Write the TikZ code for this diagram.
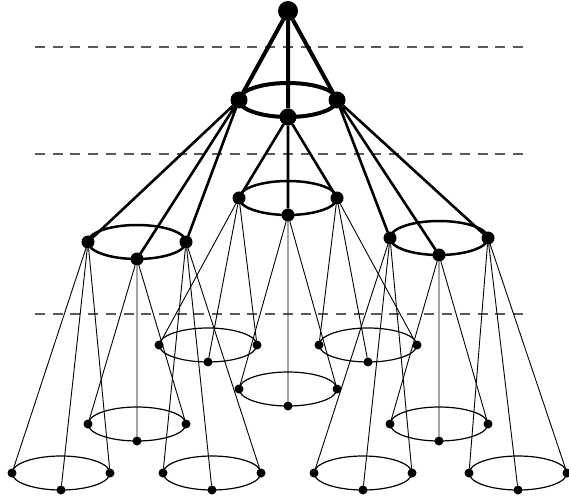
\documentclass[tikz,border=0pt]{standalone}
\usetikzlibrary{calc}
\begin{document}
\begin{tikzpicture}[x=1pt, y=-1pt,
  dot/.style={circle, fill=black, inner sep=0pt, outer sep=0pt},
  top/.style={dot, minimum size=20pt},
  d1/.style={dot, minimum size=17pt},
  d2/.style={dot, minimum size=13pt},
  d3/.style={dot, minimum size=9pt},
  e1/.style={draw, line width=4pt},
  e2/.style={draw, line width=2.6pt},
  e3/.style={draw, line width=0.9pt},
  ring1/.style={draw, line width=4pt},
  ring2/.style={draw, line width=2.5pt},
  ring3/.style={draw, line width=1.2pt},
  level/.style={draw=black!65, line width=1.2pt, dash pattern=on 10pt off 7.7pt}]
\useasboundingbox (0,0) rectangle (569,502);
% ---------- level guides
\draw[level] (35,47) -- (523,47);
\draw[level] (35,154) -- (523,154);
\draw[level] (35,314) -- (523,314);
% ---------- root and level 1
\node[top] (root) at (288,11) {};
\node[d1] (l) at (239,100) {};
\node[d1] (b) at (288,117) {};
\node[d1] (r) at (337,100) {};
% ---------- level 2
\node[d2] (ll) at (88,242) {};  \node[d2] (lb) at (137,259) {}; \node[d2] (lr) at (186,242) {};
\node[d2] (bl) at (239,198) {}; \node[d2] (bb) at (288,215) {}; \node[d2] (br) at (337,198) {};
\node[d2] (rl) at (390,238) {}; \node[d2] (rb) at (439,255) {}; \node[d2] (rr) at (488,238) {};
% ---------- level 3
\node[d3] (lll) at (12,473) {};  \node[d3] (llb) at (61,490) {};  \node[d3] (llr) at (110,473) {};
\node[d3] (lbl) at (88,424) {};  \node[d3] (lbb) at (137,441) {}; \node[d3] (lbr) at (186,424) {};
\node[d3] (lrl) at (163,473) {}; \node[d3] (lrb) at (212,490) {}; \node[d3] (lrr) at (261,473) {};
\node[d3] (bll) at (159,345) {}; \node[d3] (blb) at (208,362) {}; \node[d3] (blr) at (257,345) {};
\node[d3] (bbl) at (239,389) {}; \node[d3] (bbb) at (288,406) {}; \node[d3] (bbr) at (337,389) {};
\node[d3] (brl) at (319,345) {}; \node[d3] (brb) at (368,362) {}; \node[d3] (brr) at (417,345) {};
\node[d3] (rll) at (314,473) {}; \node[d3] (rlb) at (363,490) {}; \node[d3] (rlr) at (412,473) {};
\node[d3] (rbl) at (390,424) {}; \node[d3] (rbb) at (439,441) {}; \node[d3] (rbr) at (488,424) {};
\node[d3] (rrl) at (469,473) {}; \node[d3] (rrb) at (518,490) {}; \node[d3] (rrr) at (567,473) {};
% ---------- rings
\draw[ring1] ($(l)!0.5!(r)$) ellipse [x radius=49, y radius=17];
\draw[ring2] ($(ll)!0.5!(lr)$) ellipse [x radius=49, y radius=17];
\draw[ring2] ($(bl)!0.5!(br)$) ellipse [x radius=49, y radius=17];
\draw[ring2] ($(rl)!0.5!(rr)$) ellipse [x radius=49, y radius=17];
\draw[ring3] ($(lll)!0.5!(llr)$) ellipse [x radius=49, y radius=17];
\draw[ring3] ($(lbl)!0.5!(lbr)$) ellipse [x radius=49, y radius=17];
\draw[ring3] ($(lrl)!0.5!(lrr)$) ellipse [x radius=49, y radius=17];
\draw[ring3] ($(bll)!0.5!(blr)$) ellipse [x radius=49, y radius=17];
\draw[ring3] ($(bbl)!0.5!(bbr)$) ellipse [x radius=49, y radius=17];
\draw[ring3] ($(brl)!0.5!(brr)$) ellipse [x radius=49, y radius=17];
\draw[ring3] ($(rll)!0.5!(rlr)$) ellipse [x radius=49, y radius=17];
\draw[ring3] ($(rbl)!0.5!(rbr)$) ellipse [x radius=49, y radius=17];
\draw[ring3] ($(rrl)!0.5!(rrr)$) ellipse [x radius=49, y radius=17];
% ---------- edges
\draw[e1] (root) -- (l) (root) -- (b) (root) -- (r);
\draw[e2] (l) -- (ll) (l) -- (lb) (l) -- (lr);
\draw[e2] (b) -- (bl) (b) -- (bb) (b) -- (br);
\draw[e2] (r) -- (rl) (r) -- (rb) (r) -- (rr);
\draw[e3] (ll) -- (lll) (ll) -- (llb) (ll) -- (llr);
\draw[e3] (lb) -- (lbl) (lb) -- (lbb) (lb) -- (lbr);
\draw[e3] (lr) -- (lrl) (lr) -- (lrb) (lr) -- (lrr);
\draw[e3] (bl) -- (bll) (bl) -- (blb) (bl) -- (blr);
\draw[e3] (bb) -- (bbl) (bb) -- (bbb) (bb) -- (bbr);
\draw[e3] (br) -- (brl) (br) -- (brb) (br) -- (brr);
\draw[e3] (rl) -- (rll) (rl) -- (rlb) (rl) -- (rlr);
\draw[e3] (rb) -- (rbl) (rb) -- (rbb) (rb) -- (rbr);
\draw[e3] (rr) -- (rrl) (rr) -- (rrb) (rr) -- (rrr);
\end{tikzpicture}
\end{document}
